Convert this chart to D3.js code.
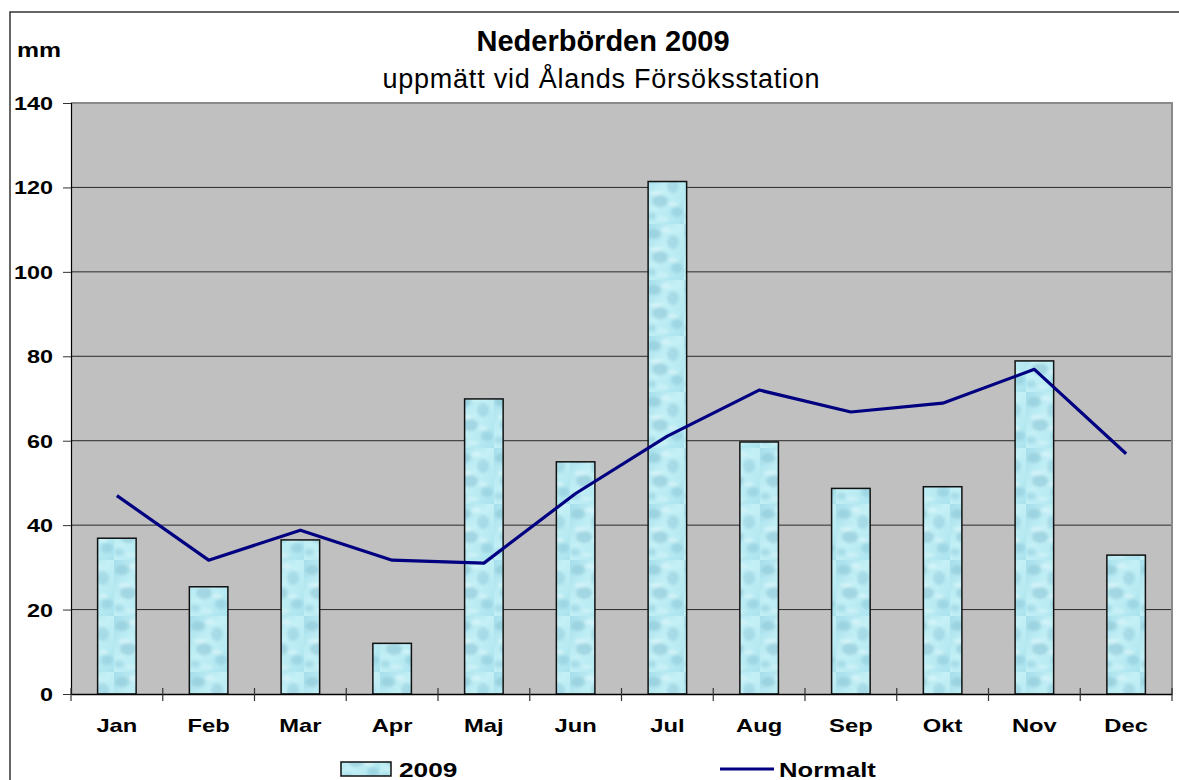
<!DOCTYPE html>
<html lang="sv">
<head>
  <meta charset="UTF-8">
  <title>Nederbörden 2009</title>
  <script src="https://d3js.org/d3.v7.min.js"></script>
  <style>
    body { margin: 0; background: #fff; }
    svg { display: block; }
    .tick text { font-family: "Liberation Sans", Arial, sans-serif; font-weight: bold; fill: #000; }
  </style>
</head>
<body>
<svg width="1179" height="780"></svg>
<script>
  const months = ["Jan", "Feb", "Mar", "Apr", "Maj", "Jun", "Jul", "Aug", "Sep", "Okt", "Nov", "Dec"];
  const rain2009 = [36.9, 25.4, 36.5, 12.0, 69.9, 55.0, 121.4, 59.7, 48.7, 49.1, 78.9, 32.9];
  const normal = [47.0, 31.7, 38.8, 31.7, 31.0, 47.5, 61.1, 72.0, 66.8, 68.9, 76.9, 56.9];
  const yTicks = [0, 20, 40, 60, 80, 100, 120, 140];

  const plot = {left: 71, right: 1172, top: 103, bottom: 694};

  const svg = d3.select("svg");

  // the excel labels are drawn wide, so stretch the glyphs a bit
  function stretch(sel, k) {
    sel.each(function() {
      const w = this.getComputedTextLength();
      d3.select(this).attr("textLength", w * k).attr("lengthAdjust", "spacingAndGlyphs");
    });
  }

  // water-drop texture for the bars
  const defs = svg.append("defs");
  const grad = defs.append("linearGradient").attr("id", "water")
    .attr("x1", 0).attr("y1", 0).attr("x2", 1).attr("y2", 1);
  grad.append("stop").attr("offset", "0%").attr("stop-color", "#a6dfeb");
  grad.append("stop").attr("offset", "45%").attr("stop-color", "#c4f0f6");
  grad.append("stop").attr("offset", "100%").attr("stop-color", "#aae3ee");

  defs.append("filter").attr("id", "soft")
    .append("feGaussianBlur").attr("stdDeviation", 1.6);

  const pat = defs.append("pattern").attr("id", "drops")
    .attr("patternUnits", "userSpaceOnUse").attr("width", 38).attr("height", 56);
  pat.append("rect").attr("width", 38).attr("height", 56).attr("fill", "url(#water)");
  const blobs = [
    [8, 10, 7, 5, "#88c3d4"], [27, 18, 6, 7, "#8fcbdb"], [14, 33, 8, 6, "#86c1d2"],
    [31, 44, 6, 5, "#8dc9d9"], [5, 48, 5, 4, "#93cfde"], [20, 6, 5, 3, "#e4f9fc"],
    [10, 25, 6, 2, "#eafbfd"], [27, 36, 5, 2, "#e6fafc"], [17, 51, 6, 2, "#e0f7fa"]
  ];
  const blobG = pat.append("g").attr("filter", "url(#soft)");
  blobs.forEach(b => blobG.append("ellipse")
    .attr("cx", b[0]).attr("cy", b[1]).attr("rx", b[2]).attr("ry", b[3])
    .attr("fill", b[4]).attr("opacity", 0.55));

  // outer chart border
  svg.append("rect")
    .attr("x", 10).attr("y", 12).attr("width", 1200).attr("height", 800)
    .attr("fill", "none").attr("stroke", "#333").attr("stroke-width", 1.5);

  const x = d3.scaleBand()
    .domain(months)
    .range([plot.left, plot.right])
    .paddingInner(0.58)
    .paddingOuter(0.29);
  const step = x.step();
  const cx = m => x(m) + x.bandwidth() / 2;

  const y = d3.scaleLinear()
    .domain([0, 140])
    .range([plot.bottom, plot.top]);

  // plot background
  svg.append("rect")
    .attr("x", plot.left).attr("y", plot.top)
    .attr("width", plot.right - plot.left).attr("height", plot.bottom - plot.top)
    .attr("fill", "#c0c0c0");

  // gridlines
  svg.append("g").selectAll("line")
    .data(yTicks.filter(t => t > 0 && t < 140))
    .join("line")
    .attr("x1", plot.left).attr("x2", plot.right)
    .attr("y1", d => y(d)).attr("y2", d => y(d))
    .attr("stroke", "#2a2a2a").attr("stroke-width", 1);

  // top / right plot border
  svg.append("path")
    .attr("d", `M${plot.left},${plot.top}H${plot.right}V${plot.bottom}`)
    .attr("fill", "none").attr("stroke", "#8a8a8a").attr("stroke-width", 2);

  // bars
  svg.append("g").selectAll("rect")
    .data(months.map((m, i) => ({m, v: rain2009[i]})))
    .join("rect")
    .attr("x", d => x(d.m))
    .attr("y", d => y(d.v))
    .attr("width", x.bandwidth())
    .attr("height", d => y(0) - y(d.v))
    .attr("fill", "url(#drops)")
    .attr("stroke", "#111").attr("stroke-width", 1.5);

  // normal line
  svg.append("path")
    .datum(months.map((m, i) => ({m, v: normal[i]})))
    .attr("fill", "none")
    .attr("stroke", "#000080")
    .attr("stroke-width", 3.2)
    .attr("stroke-linejoin", "round")
    .attr("d", d3.line().x(d => cx(d.m)).y(d => y(d.v)));

  // y axis
  const yAxis = svg.append("g")
    .attr("transform", `translate(${plot.left},0)`)
    .call(d3.axisLeft(y).tickValues(yTicks).tickSize(8).tickPadding(10));
  yAxis.select(".domain").attr("stroke", "#000").attr("stroke-width", 1.2);
  yAxis.selectAll(".tick line").attr("stroke", "#333");
  yAxis.selectAll(".tick text").attr("font-size", 18).attr("dy", "0.36em").call(stretch, 1.3);

  // x axis with ticks between categories
  const xAxis = svg.append("g")
    .attr("transform", `translate(0,${plot.bottom})`)
    .call(d3.axisBottom(x).tickSize(0).tickPadding(31));
  xAxis.select(".domain").attr("stroke", "#000").attr("stroke-width", 1.5);
  xAxis.selectAll(".tick").attr("transform", d => `translate(${cx(d)},0)`);
  xAxis.selectAll(".tick text").attr("font-size", 19).attr("dy", "0.36em").call(stretch, 1.25);
  xAxis.append("g").selectAll("line")
    .data(d3.range(months.length + 1))
    .join("line")
    .attr("x1", i => plot.left + i * step).attr("x2", i => plot.left + i * step)
    .attr("y1", -6).attr("y2", 7)
    .attr("stroke", "#333").attr("stroke-width", 1.2);

  // titles
  svg.append("text")
    .attr("x", 603).attr("y", 51)
    .attr("text-anchor", "middle")
    .attr("font-family", "Liberation Sans, Arial, sans-serif")
    .attr("font-weight", "bold").attr("font-size", 29)
    .text("Nederbörden 2009");
  svg.append("text")
    .attr("x", 601).attr("y", 88)
    .attr("text-anchor", "middle")
    .attr("font-family", "Liberation Sans, Arial, sans-serif")
    .attr("font-size", 27)
    .attr("textLength", 437)
    .text("uppmätt vid Ålands Försöksstation");
  svg.append("text")
    .attr("x", 17).attr("y", 57)
    .attr("font-family", "Liberation Sans, Arial, sans-serif")
    .attr("font-weight", "bold").attr("font-size", 21)
    .text("mm")
    .call(stretch, 1.18);

  // legend
  const legend = svg.append("g")
    .attr("font-family", "Liberation Sans, Arial, sans-serif")
    .attr("font-weight", "bold").attr("font-size", 21);
  legend.append("rect")
    .attr("x", 341).attr("y", 762).attr("width", 50).attr("height", 14)
    .attr("fill", "url(#drops)").attr("stroke", "#111").attr("stroke-width", 1.5);
  legend.append("text").attr("x", 399).attr("y", 777).text("2009").call(stretch, 1.25);
  legend.append("line")
    .attr("x1", 720).attr("x2", 774).attr("y1", 769).attr("y2", 769)
    .attr("stroke", "#000080").attr("stroke-width", 3.2);
  legend.append("text").attr("x", 779).attr("y", 777).text("Normalt").call(stretch, 1.22);
</script>
</body>
</html>
